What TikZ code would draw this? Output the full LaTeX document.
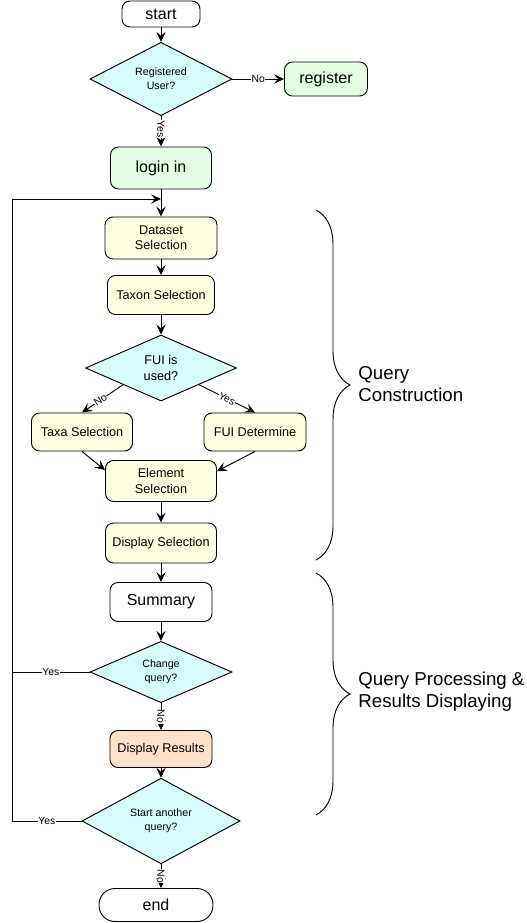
\documentclass[tikz,border=0pt]{standalone}
\usepackage{fontspec}
\setmainfont{Liberation Sans}
\usetikzlibrary{shapes.geometric,arrows.meta,decorations.pathreplacing}

\definecolor{decfill}{RGB}{215,252,255}
\definecolor{grnfill}{RGB}{228,255,228}
\definecolor{ylwfill}{RGB}{255,255,225}
\definecolor{pchfill}{RGB}{255,224,200}

\begin{document}
\begin{tikzpicture}[x=0.75pt,y=-0.75pt,line width=0.7pt,
  arr/.style={-{Stealth[length=7.5pt,width=7pt,inset=3pt]}},
  box/.style={draw, rectangle, rounded corners=6pt, align=center, inner sep=1pt},
  big/.style={box, font=\fontsize{12}{14}\selectfont},
  mid/.style={box, fill=ylwfill, font=\fontsize{9.5}{11.5}\selectfont},
  dec/.style={draw, diamond, fill=decfill, inner sep=0pt, align=center, font=\fontsize{8}{10.5}\selectfont},
  lbl/.style={fill=white, inner sep=0.3pt, font=\fontsize{7.8}{9}\selectfont},
  brc/.style={decorate, decoration={brace, amplitude=25.5pt}},
  side/.style={anchor=west, align=left, inner sep=0pt, font=\fontsize{14}{16.5}\selectfont}]
\useasboundingbox (0,0) rectangle (527,923);

%login part
\node[big, minimum width=58.5pt, minimum height=19.5pt] (start) at (161,14) {start};
\node[dec, minimum width=106.5pt, minimum height=45pt] (reg) at (161,79) {Registered\\User?};
\node[big, fill=grnfill, minimum width=62.25pt, minimum height=25.5pt] (register) at (326,79) {register};
\node[big, fill=grnfill, minimum width=75.75pt, minimum height=31.5pt] (login) at (161,168) {login in};

%query construction
\node[mid, minimum width=84pt, minimum height=31.5pt] (dataset) at (161,238) {Dataset\\Selection};
\node[mid, minimum width=80.25pt, minimum height=29.25pt] (taxon) at (161,295) {Taxon Selection};
\node[dec, minimum width=113.25pt, minimum height=49.5pt, font=\fontsize{9.5}{11.3}\selectfont] (fui) at (161,368) {FUI is\\used?};
\node[mid, minimum width=75.75pt, minimum height=28.5pt] (taxa) at (82,432) {Taxa Selection};
\node[mid, minimum width=76.5pt, minimum height=28.5pt] (fuid) at (255,432) {FUI Determine};
\node[mid, minimum width=83.25pt, minimum height=30.75pt] (element) at (161,481) {Element\\Selection};
\node[mid, minimum width=83.25pt, minimum height=30pt] (dispsel) at (161,543) {Display Selection};

%processing
\node[big, minimum width=76.5pt, minimum height=29.25pt] (summary) at (161,602) {Summary};
\node[dec, minimum width=106.5pt, minimum height=45pt] (change) at (161,672) {Change\\query?};
\node[mid, fill=pchfill, minimum width=76.5pt, minimum height=27.75pt] (results) at (161,749) {Display Results};
\node[dec, minimum width=118.5pt, minimum height=51pt] (another) at (161,821) {Start another\\query?};
\node[big, rounded corners=12pt, minimum width=85.5pt, minimum height=24.75pt] (finish) at (156,905) {end};

\foreach \a/\b in {start/reg,login/dataset,dataset/taxon,taxon/fui,element/dispsel,dispsel/summary,summary/change,results/another}
  \draw[arr] (\a) -- (\b);

\draw[arr] (reg) -- node[lbl] {No} (register);
\draw[arr] (reg) -- node[lbl, rotate=-90, pos=0.42] {Yes} (login);
\draw[arr] (fui.south west) -- node[lbl, sloped, pos=0.55] {No} (taxa.north);
\draw[arr] (fui.south east) -- node[lbl, sloped, pos=0.5] {Yes} (fuid.north);
\draw[arr] (taxa.south) -- (element.169);
\draw[arr] (fuid.south) -- (element.10);
\draw[arr] (change) -- node[lbl, rotate=-90] {No} (results);
\draw[arr] (another) -- node[lbl, rotate=-90] {No} (another.south |- finish.north);

%loop back
\coordinate (lb) at (12,821);
\coordinate (lt) at (12,199);
\coordinate (back) at (161,199);
\draw[arr] (another) -- node[lbl] {Yes} (lb) -- (lt) -- (back);
\draw (change) -- node[lbl] {Yes} (change -| lb);

%braces
\draw[brc] (316,210) -- (316,560);
\draw[brc] (316,573) -- (316,815);
\node[side] (qc) at (358,384) {Query\\Construction};
\node[side] (qp) at (358,692) {Query Processing \&\\Results Displaying};

\end{tikzpicture}
\end{document}
